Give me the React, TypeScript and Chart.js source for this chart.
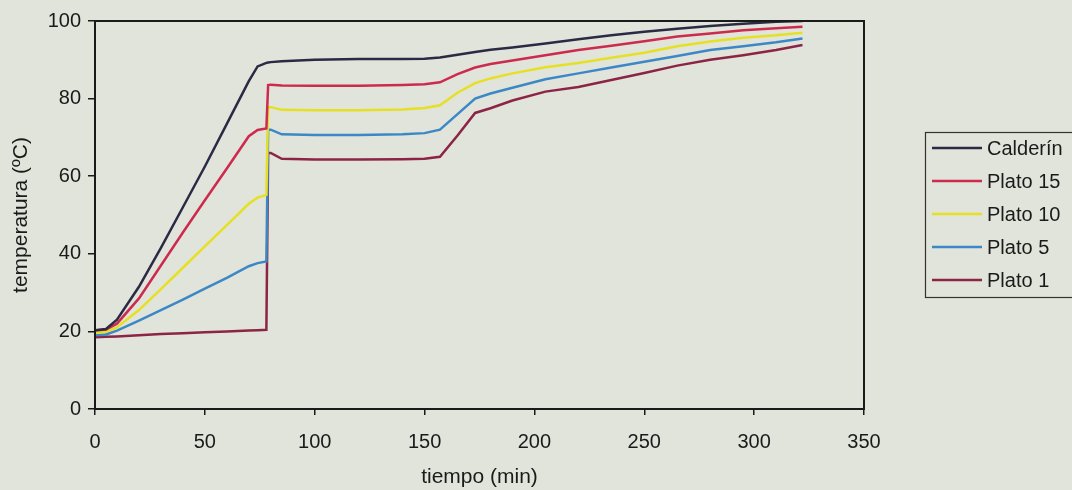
import React, { useEffect, useRef } from "react";
import { Chart, registerables } from "chart.js";

Chart.register(...registerables);

const times = [0, 5, 10, 20, 30, 40, 50, 60, 70, 74, 78, 78.8, 80, 85, 100, 120, 140, 150, 157, 165, 173, 180, 190, 205, 220, 235, 250, 265, 280, 295, 310, 322];

const calderin = [20.3, 20.6, 23, 31.5, 41.5, 52, 62.5, 73.5, 84.5, 88.3, 89.2, 89.3, 89.4, 89.6, 90, 90.2, 90.2, 90.3, 90.6, 91.3, 92, 92.6, 93.2, 94.2, 95.3, 96.3, 97.2, 98, 98.7, 99.3, 99.8, 100];
const plato15 = [20.2, 20.5, 22, 28.5, 37, 45.5, 53.8, 62, 70.3, 71.9, 72.3, 83.5, 83.6, 83.4, 83.3, 83.3, 83.5, 83.7, 84.2, 86.3, 88, 88.9, 89.8, 91.2, 92.5, 93.6, 94.8, 96, 96.8, 97.6, 98.1, 98.5];
const plato10 = [19.6, 19.9, 21, 25.5, 30.9, 36.4, 41.9, 47.4, 52.9, 54.5, 55.2, 77.8, 77.8, 77.1, 77, 77, 77.2, 77.6, 78.3, 81.5, 84, 85.2, 86.5, 88.1, 89.2, 90.5, 91.8, 93.5, 94.7, 95.7, 96.3, 97];
const plato5 = [19, 19.2, 20.2, 22.8, 25.5, 28.2, 31, 33.8, 36.8, 37.6, 38, 72, 72, 70.8, 70.6, 70.6, 70.8, 71.1, 72, 76, 80, 81.3, 82.8, 85, 86.5, 88, 89.5, 91, 92.5, 93.5, 94.5, 95.5];
const plato1 = [18.5, 18.6, 18.7, 19, 19.3, 19.5, 19.8, 20, 20.2, 20.3, 20.4, 66, 66, 64.5, 64.3, 64.3, 64.4, 64.5, 65, 70.5, 76.3, 77.5, 79.5, 81.8, 83, 84.8, 86.6, 88.5, 90, 91.2, 92.5, 93.8];

const seriesNames = ["Calderín", "Plato 15", "Plato 10", "Plato 5", "Plato 1"];
const seriesValues = [calderin, plato15, plato10, plato5, plato1];
const seriesColors = ["#2b2a44", "#cc2a4e", "#e6e024", "#3c88c6", "#8c2446"];

const xTicksStep = 50;
const yTicksStep = 20;

const BG = "#e1e4da";
const INK = "#1a1a1a";
const FONT = "'Liberation Sans', Arial, sans-serif";

const bgPlugin = {
  id: "bg",
  beforeDraw(chart: any) {
    const ctx = chart.ctx;
    ctx.save();
    ctx.fillStyle = BG;
    ctx.fillRect(0, 0, chart.width, chart.height);
    ctx.restore();
  },
};

const framePlugin = {
  id: "frame",
  afterDraw(chart: any) {
    const { ctx, chartArea } = chart;
    ctx.save();
    ctx.strokeStyle = INK;
    ctx.lineWidth = 2;
    ctx.strokeRect(chartArea.left, chartArea.top, chartArea.right - chartArea.left, chartArea.bottom - chartArea.top);

    // legend box
    const bx = 925.5, by = 132.5, bw = 160, bh = 165;
    ctx.lineWidth = 1.2;
    ctx.strokeStyle = "#333";
    ctx.strokeRect(bx, by, bw, bh);
    ctx.font = `20px ${FONT}`;
    ctx.textBaseline = "middle";
    ctx.textAlign = "left";
    const rowY = [148, 181, 214, 247, 280];
    chart.data.datasets.forEach((ds: any, i: number) => {
      const y = rowY[i];
      ctx.strokeStyle = ds.borderColor;
      ctx.lineWidth = 2.5;
      ctx.beginPath();
      ctx.moveTo(932, y);
      ctx.lineTo(982, y);
      ctx.stroke();
      ctx.fillStyle = INK;
      ctx.fillText(ds.label, 987, y + 1);
    });
    ctx.restore();
  },
};

export default function App() {
  const ref = useRef<HTMLCanvasElement>(null);
  useEffect(() => {
    if (!ref.current) return;
    const datasets = seriesNames.map((name, i) => ({
      label: name,
      data: times.map((t, j) => ({ x: t, y: seriesValues[i][j] })),
      borderColor: seriesColors[i],
      backgroundColor: seriesColors[i],
      borderWidth: 2.5,
      pointRadius: 0,
      tension: 0,
      fill: false,
    }));
    const chart = new Chart(ref.current, {
      type: "line",
      data: { datasets },
      plugins: [bgPlugin, framePlugin],
      options: {
        animation: false,
        responsive: false,
        maintainAspectRatio: false,
        layout: { padding: { left: 0, top: 21, right: 208, bottom: 0 } },
        plugins: { legend: { display: false }, tooltip: { enabled: false } },
        scales: {
          x: {
            type: "linear",
            min: 0,
            max: 350,
            border: { display: false },
            grid: { display: true, drawOnChartArea: false, drawTicks: true, tickLength: 6, color: INK, lineWidth: 1.5 },
            ticks: { stepSize: xTicksStep, color: INK, padding: 15, font: { family: FONT, size: 20 } },
            title: { display: true, text: "tiempo (min)", color: INK, font: { family: FONT, size: 21 }, padding: { top: 0, bottom: 0 } },
            afterFit(scale: any) {
              scale.height = 81;
            },
          },
          y: {
            type: "linear",
            min: 0,
            max: 100,
            border: { display: false },
            grid: { display: true, drawOnChartArea: false, drawTicks: true, tickLength: 7, color: INK, lineWidth: 1.5 },
            ticks: { stepSize: yTicksStep, color: INK, padding: 7, font: { family: FONT, size: 20 } },
            title: { display: true, text: "temperatura (ºC)", color: INK, font: { family: FONT, size: 21 }, padding: { top: 9, bottom: 0 } },
            afterFit(scale: any) {
              scale.width = 95;
            },
          },
        },
      },
    });
    return () => chart.destroy();
  }, []);
  return (
    <div style={{ position: "absolute", left: 0, top: 0, width: 1072, height: 490, background: BG }}>
      <canvas ref={ref} width={1072} height={490} style={{ display: "block" }} />
    </div>
  );
}
